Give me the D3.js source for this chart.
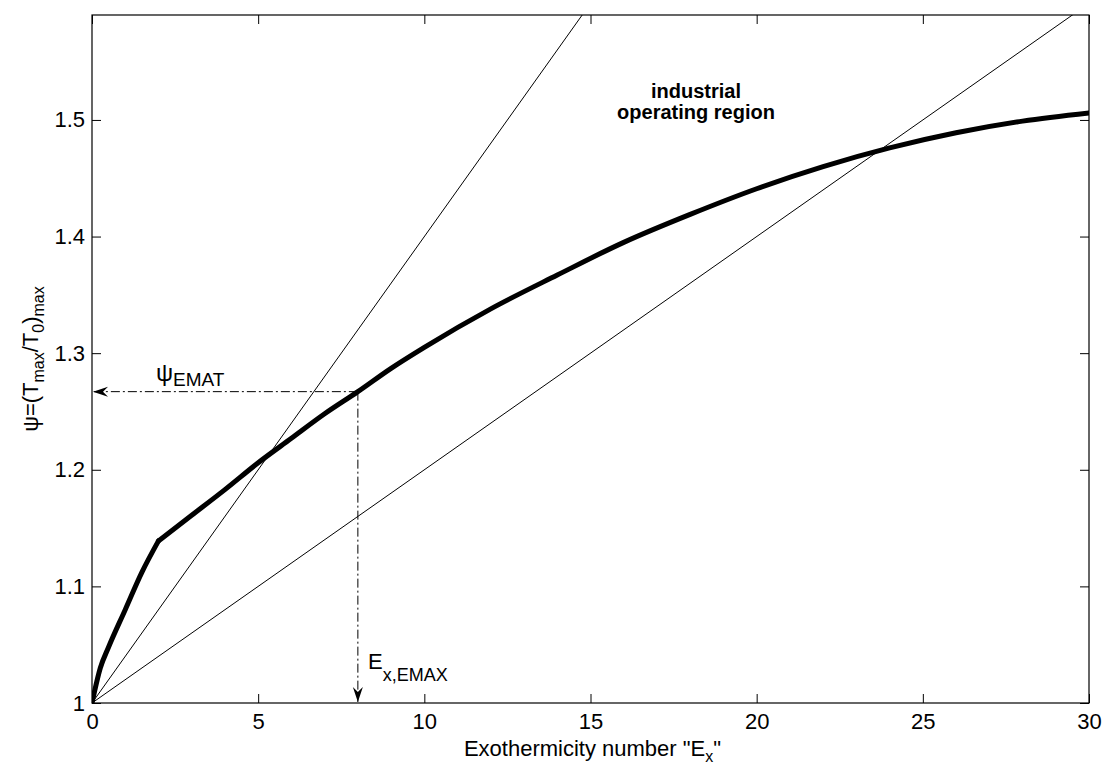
<!DOCTYPE html>
<html><head><meta charset="utf-8">
<script src="https://cdn.jsdelivr.net/npm/d3@7"></script>
<style>
body{margin:0;background:#fff}
text{font-family:"Liberation Sans",Arial,Helvetica,sans-serif;fill:#000}
</style>
</head><body>
<svg id="c" width="1104" height="767"></svg>
<script>
// ---- data ----
const curveEx  = [0, 0.25, 0.5, 1, 1.5, 2, 3, 4, 5, 6, 7, 8, 9, 10, 12, 14, 16, 18, 20, 22, 24, 26, 28, 30];
const curvePsi = [1, 1.03, 1.048, 1.08, 1.112, 1.139, 1.161, 1.183, 1.206, 1.227, 1.248, 1.267, 1.287, 1.305, 1.338, 1.367, 1.395, 1.419, 1.441, 1.460, 1.476, 1.489, 1.499, 1.506];
const kinkEx = 2;
const lineEx = [0, 30];
const steepPsi = [1, 2.2];     // psi = 1 + 0.04 Ex
const shallowPsi = [1, 1.6];   // psi = 1 + 0.02 Ex
const emaxEx = 8;
const emaxPsi = 1.267;
const xTicks = [0, 5, 10, 15, 20, 25, 30];
const xTickLabels = ["0", "5", "10", "15", "20", "25", "30"];
const yTicks = [1, 1.1, 1.2, 1.3, 1.4, 1.5];
const yTickLabels = ["1", "1.1", "1.2", "1.3", "1.4", "1.5"];
const xDomain = [0, 30];
const yDomain = [1, 1.59];

// ---- layout ----
const L = 92, R = 1089, T = 15, B = 703;
const svg = d3.select("#c");
const x = d3.scaleLinear().domain(xDomain).range([L, R]);
const y = d3.scaleLinear().domain(yDomain).range([B, T]);

svg.append("rect").attr("width", 1104).attr("height", 767).attr("fill", "#fff");

const defs = svg.append("defs");
defs.append("clipPath").attr("id", "clip")
  .append("rect").attr("x", L).attr("y", T).attr("width", R - L).attr("height", B - T);
defs.append("marker").attr("id", "arr")
  .attr("markerUnits", "userSpaceOnUse")
  .attr("viewBox", "-16 -6 18 12").attr("refX", 0).attr("refY", 0)
  .attr("markerWidth", 18).attr("markerHeight", 12).attr("orient", "auto")
  .append("path").attr("d", "M0,0 L-15,-5 L-10,0 L-15,5 Z").attr("fill", "#000");

// axes (inward ticks on all 4 sides)
const tickLen = 9;
const gB = svg.append("g").attr("transform", `translate(0,${B})`)
  .call(d3.axisBottom(x).tickValues(xTicks).tickFormat((d, i) => xTickLabels[i])
    .tickSizeInner(-tickLen).tickSizeOuter(0).tickPadding(10));
const gT = svg.append("g").attr("transform", `translate(0,${T})`)
  .call(d3.axisTop(x).tickValues(xTicks).tickFormat("").tickSizeInner(-tickLen).tickSizeOuter(0));
const gL = svg.append("g").attr("transform", `translate(${L},0)`)
  .call(d3.axisLeft(y).tickValues(yTicks).tickFormat((d, i) => yTickLabels[i])
    .tickSizeInner(-tickLen).tickSizeOuter(0).tickPadding(7));
const gR = svg.append("g").attr("transform", `translate(${R},0)`)
  .call(d3.axisRight(y).tickValues(yTicks).tickFormat("").tickSizeInner(-tickLen).tickSizeOuter(0));
[gB, gT, gL, gR].forEach(g => {
  g.select(".domain").remove();
  g.selectAll(".tick line").attr("stroke", "#000").attr("stroke-width", 1);
  g.selectAll(".tick text").attr("font-size", 22).attr("fill", "#000")
    .style("font-family", '"Liberation Sans",Arial,sans-serif');
});
svg.append("rect").attr("x", L).attr("y", T).attr("width", R - L).attr("height", B - T)
  .attr("fill", "none").attr("stroke", "#000").attr("stroke-width", 1.2);

const plot = svg.append("g").attr("clip-path", "url(#clip)");

// thin straight lines
const straight = d3.line().x(d => x(d[0])).y(d => y(d[1]));
[steepPsi, shallowPsi].forEach(vals => {
  plot.append("path").attr("d", straight(lineEx.map((e, i) => [e, vals[i]])))
    .attr("fill", "none").attr("stroke", "#000").attr("stroke-width", 1);
});

// thick curve (kink at Ex=2)
const pts = curveEx.map((e, i) => [e, curvePsi[i]]);
const cl = d3.line().x(d => x(d[0])).y(d => y(d[1])).curve(d3.curveMonotoneX);
const segA = pts.filter(p => p[0] <= kinkEx);
const segB = pts.filter(p => p[0] >= kinkEx);
[segA, segB].forEach(s => {
  plot.append("path").attr("d", cl(s)).attr("fill", "none").attr("stroke", "#000")
    .attr("stroke-width", 5).attr("stroke-linejoin", "round").attr("stroke-linecap", "round");
});

// dash-dot arrows
const dd = "9,3,2,3";
svg.append("line").attr("x1", x(emaxEx)).attr("y1", y(emaxPsi)).attr("x2", x(0) + 1).attr("y2", y(emaxPsi))
  .attr("stroke", "#000").attr("stroke-width", 1).attr("stroke-dasharray", dd).attr("marker-end", "url(#arr)");
svg.append("line").attr("x1", x(emaxEx)).attr("y1", y(emaxPsi)).attr("x2", x(emaxEx)).attr("y2", y(1) - 1)
  .attr("stroke", "#000").attr("stroke-width", 1).attr("stroke-dasharray", dd).attr("marker-end", "url(#arr)");

// annotations
const tp = svg.append("text").attr("x", 156).attr("y", 381).attr("font-size", 24);
tp.append("tspan").text("ψ");
tp.append("tspan").attr("font-size", 19).attr("dy", 5).text("EMAT");

const te = svg.append("text").attr("x", 368).attr("y", 669).attr("font-size", 22);
te.append("tspan").text("E");
te.append("tspan").attr("font-size", 18).attr("dy", 12).text("x,EMAX");

const ti = svg.append("text").attr("x", 696).attr("y", 98).attr("font-size", 20)
  .attr("font-weight", "bold").attr("text-anchor", "middle");
ti.append("tspan").attr("x", 696).text("industrial");
ti.append("tspan").attr("x", 696).attr("dy", 21).text("operating region");

// axis labels
const xl = svg.append("text").attr("x", (L + R) / 2 + 2).attr("y", 756).attr("font-size", 22)
  .attr("text-anchor", "middle");
xl.append("tspan").text("Exothermicity number \"E");
xl.append("tspan").attr("font-size", 16).attr("dy", 6).text("x");
xl.append("tspan").attr("dy", -6).text("\"");

const yl = svg.append("text").attr("transform", `translate(38,${(T + B) / 2}) rotate(-90)`)
  .attr("font-size", 22).attr("text-anchor", "middle");
yl.append("tspan").text("ψ=(T");
yl.append("tspan").attr("font-size", 16).attr("dy", 6).text("max");
yl.append("tspan").attr("dy", -6).text("/T");
yl.append("tspan").attr("font-size", 16).attr("dy", 6).text("0");
yl.append("tspan").attr("dy", -6).text(")");
yl.append("tspan").attr("font-size", 16).attr("dy", 6).text("max");
</script>
</body></html>
